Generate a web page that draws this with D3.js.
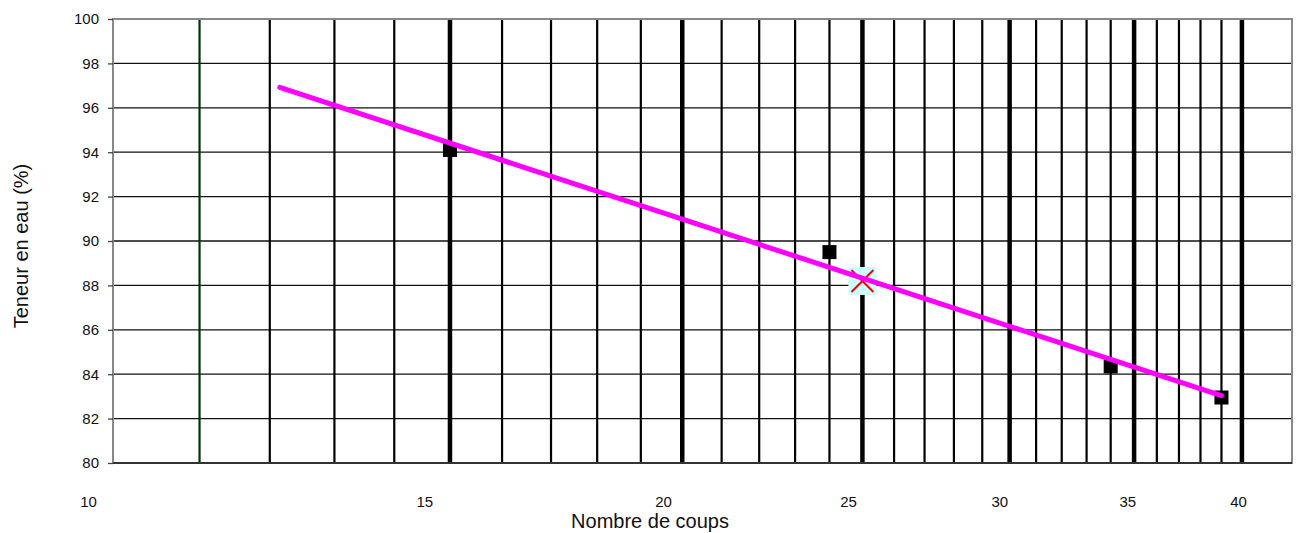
<!DOCTYPE html>
<html>
<head>
<meta charset="utf-8">
<script src="https://cdn.jsdelivr.net/npm/d3@7"></script>
<style>
  html, body { margin: 0; padding: 0; background: #fff; }
  svg { display: block; font-family: "Liberation Sans", Arial, sans-serif; }
</style>
</head>
<body>
<svg id="chart" width="1298" height="533"></svg>
<script>
// ---- data ----
const blows = [15, 24, 34, 39];                 // Nombre de coups
const waterContent = [94.1, 89.5, 84.35, 82.95]; // Teneur en eau (%)
const fitBlows = [12.15, 39];
const fitWater = [96.92, 83.03];
const limitBlows = [25];
const limitWater = [88.2];
const verticalLines = [11, 12, 13, 14, 15, 16, 17, 18, 19, 20, 21, 22, 23, 24, 25,
                       26, 27, 28, 29, 30, 31, 32, 33, 34, 35, 36, 37, 38, 39, 40];
const majorLines = [15, 20, 25, 30, 35, 40];
const greenLines = [11];
const xTickLabels = [10, 15, 20, 25, 30, 35, 40];
const yTicks = [80, 82, 84, 86, 88, 90, 92, 94, 96, 98, 100];
const xTitle = "Nombre de coups";
const yTitle = "Teneur en eau (%)";

// ---- layout ----
const L = 113, R = 1292, T = 19, B = 463;
const svg = d3.select("#chart");

const x = d3.scaleLog().domain([9.882, 42.56]).range([L, R]);
const y = d3.scaleLinear().domain([80, 100]).range([B, T]);
const xLabel = d3.scaleLog().domain([10, 40]).range([88, 1238]);

// horizontal grid lines
svg.append("g").selectAll("line").data(yTicks.filter(d => d > 80 && d < 100)).join("line")
  .attr("x1", L).attr("x2", R)
  .attr("y1", d => y(d)).attr("y2", d => y(d))
  .attr("stroke", "#111").attr("stroke-width", 1.3);

// vertical lines
svg.append("g").selectAll("line").data(verticalLines).join("line")
  .attr("x1", d => x(d)).attr("x2", d => x(d))
  .attr("y1", T).attr("y2", B + 1)
  .attr("stroke", d => greenLines.includes(d) ? "#003300" : "#000")
  .attr("stroke-width", d => majorLines.includes(d) ? 4.5 : 2.2);

// plot border
svg.append("rect").attr("x", L).attr("y", T).attr("width", R - L).attr("height", B - T)
  .attr("fill", "none").attr("stroke", "#888").attr("stroke-width", 2);
svg.append("line").attr("x1", L).attr("x2", R).attr("y1", B).attr("y2", B)
  .attr("stroke", "#333").attr("stroke-width", 2);

// y axis
const yAxis = svg.append("g").attr("transform", `translate(${L},0)`)
  .call(d3.axisLeft(y).tickValues(yTicks).tickSize(5).tickPadding(9).tickFormat(d3.format("d")));
yAxis.select(".domain").remove();
yAxis.selectAll(".tick line").attr("stroke", "#444").attr("stroke-width", 1.3);
yAxis.selectAll(".tick text").attr("font-size", 15).attr("fill", "#111")
  .attr("font-family", "Liberation Sans, Arial, sans-serif");

// x labels (offset text labels)
const xAxis = svg.append("g").attr("transform", `translate(0,${496})`)
  .call(d3.axisBottom(xLabel).tickValues(xTickLabels).tickSize(0).tickPadding(0).tickFormat(d3.format("d")));
xAxis.select(".domain").remove();
xAxis.selectAll(".tick text").attr("font-size", 15).attr("fill", "#111")
  .attr("font-family", "Liberation Sans, Arial, sans-serif");

// limit marker (box with red X)
const mk = svg.append("g").selectAll("g").data(limitBlows.map((d, i) => [d, limitWater[i]])).join("g")
  .attr("transform", d => `translate(${x(d[0])},${y(d[1])})`);
mk.append("rect").attr("x", -14).attr("y", -14).attr("width", 28).attr("height", 28).attr("fill", "#ccffff");
mk.append("path").attr("d", "M-11,-11L11,11M-11,11L11,-11").attr("stroke", "#ff0000").attr("stroke-width", 2).attr("fill", "none");

// data squares
svg.append("g").selectAll("rect").data(blows.map((d, i) => [d, waterContent[i]])).join("rect")
  .attr("x", d => x(d[0]) - 7).attr("y", d => y(d[1]) - 7)
  .attr("width", 14).attr("height", 14).attr("fill", "#000");

// fit line
svg.append("path")
  .datum(fitBlows.map((d, i) => [d, fitWater[i]]))
  .attr("d", d3.line().x(d => x(d[0])).y(d => y(d[1])))
  .attr("stroke", "#ff00ff").attr("stroke-width", 5).attr("fill", "none").attr("stroke-linecap", "round");

// titles
svg.append("text").attr("x", 650).attr("y", 528).attr("text-anchor", "middle")
  .attr("font-size", 20).attr("fill", "#111").text(xTitle);
svg.append("text").attr("transform", "translate(28,246) rotate(-90)").attr("text-anchor", "middle")
  .attr("font-size", 20).attr("fill", "#111").text(yTitle);
</script>
</body>
</html>
